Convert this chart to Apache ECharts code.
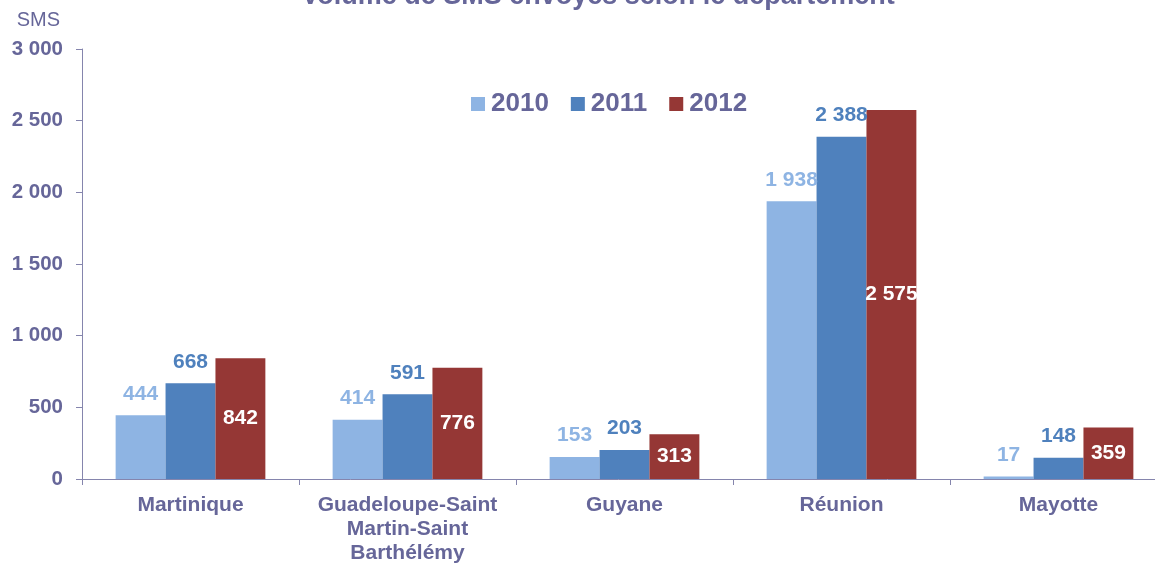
<!DOCTYPE html>
<html><head><meta charset="utf-8">
<script src="https://cdn.jsdelivr.net/npm/echarts@6/dist/echarts.min.js"></script>
<style>html,body{margin:0;padding:0;background:#fff}#c{width:1155px;height:563px}</style>
</head><body><div id="c"></div>
<script>
var categories = ['Martinique', 'Guadeloupe-Saint\nMartin-Saint\nBarthélémy', 'Guyane', 'Réunion', 'Mayotte'];
var years = ['2010', '2011', '2012'];
var v2010 = [444, 414, 153, 1938, 17];
var v2011 = [668, 591, 203, 2388, 148];
var v2012 = [842, 776, 313, 2575, 359];
var yTicks = [0, 500, 1000, 1500, 2000, 2500, 3000];

var txt = '#666699';
var colors = ['#8EB4E3', '#4F81BD', '#953735'];
function fmt(v){ return String(v).replace(/\B(?=(\d{3})+(?!\d))/g, ' '); }
var font = 'Liberation Sans, Arial, sans-serif';

var chart = echarts.init(document.getElementById('c'));
function mk(name, data, i){
  var lbl = i < 2 ? {show:true, position:'top', distance:11, color:colors[i], fontSize:21, fontWeight:'bold', fontFamily:font, formatter:function(p){return fmt(p.value);}}
                  : {show:true, position:'inside', color:'#fff', fontSize:21, fontWeight:'bold', fontFamily:font, formatter:function(p){return fmt(p.value);}};
  return {name:name, type:'bar', data:data, barGap:0, barCategoryGap:'31%', itemStyle:{color:colors[i]}, label:lbl, emphasis:{disabled:true}};
}
chart.setOption({
  animation:false,
  textStyle:{fontFamily:font},
  title:{text:'Volume de SMS envoyés selon le département', left:593, textAlign:'center', top:-22,
    textStyle:{color:txt, fontSize:27, fontWeight:'bold', fontFamily:font}},
  legend:{data:years, top:86, left:466, itemWidth:14, itemHeight:14, itemGap:22,
    textStyle:{color:txt, fontSize:26, fontWeight:'bold', fontFamily:font, padding:[0,0,0,1]},
    icon:'rect'},
  grid:{left:82, top:49, width:1085, bottom:84, containLabel:false, outerBoundsMode:'none'},
  xAxis:{type:'category', data:categories,
    axisLine:{lineStyle:{color:'#8585ad', width:1}},
    axisTick:{show:true, length:6, lineStyle:{color:'#8585ad'}},
    axisLabel:{color:txt, fontSize:21, fontWeight:'bold', fontFamily:font, margin:14, lineHeight:24, interval:0}},
  yAxis:{type:'value', min:0, max:3000, interval:500, name:'SMS', nameLocation:'end',
    nameGap:19, nameTextStyle:{color:txt, fontSize:20, fontFamily:font, align:'right', padding:[0,22,0,0]},
    axisLine:{show:true, lineStyle:{color:'#8585ad'}},
    axisTick:{show:true, length:6, lineStyle:{color:'#8585ad'}},
    splitLine:{show:false},
    axisLabel:{color:txt, fontSize:20.5, fontWeight:'bold', fontFamily:font, margin:19,
      formatter:function(v){ return yTicks.indexOf(v) >= 0 ? fmt(v) : ''; }}},
  series:[mk('2010', v2010, 0), mk('2011', v2011, 1), mk('2012', v2012, 2)]
});
</script></body></html>
